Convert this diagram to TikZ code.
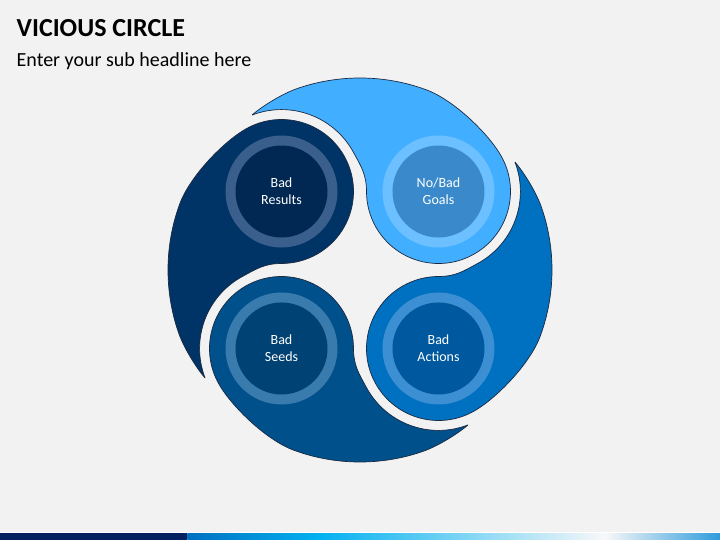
\documentclass[tikz,border=0pt]{standalone}
\usepackage{fontspec}
\setmainfont{Carlito}
\begin{document}
\begin{tikzpicture}[x=1pt,y=1pt,
  piece/.style={draw=outl,line width=0.7pt,line join=round},
  ringc/.style={circle,minimum size=112pt,inner sep=0pt,draw=none},
  corec/.style={circle,minimum size=92pt,inner sep=0pt,draw=none,text=white,align=center,
     font=\fontsize{14}{17}\selectfont},
  titletext/.style={anchor=base west,inner sep=0pt,font=\bfseries\fontsize{26}{30}\selectfont},
  subtext/.style={anchor=base west,inner sep=0pt,font=\fontsize{20}{24}\selectfont}]
\definecolor{bgc}{HTML}{F2F2F2}
\definecolor{outl}{HTML}{1B2A41}
\definecolor{pA}{HTML}{42AEFF}\definecolor{rA}{HTML}{6CC0FF}\definecolor{cA}{HTML}{3A8ACB}
\definecolor{pB}{HTML}{0070C0}\definecolor{rB}{HTML}{3C8FD2}\definecolor{cB}{HTML}{00599E}
\definecolor{pC}{HTML}{00508C}\definecolor{rC}{HTML}{3A7BAE}\definecolor{cC}{HTML}{004273}
\definecolor{pD}{HTML}{003366}\definecolor{rD}{HTML}{3A5F8C}\definecolor{cD}{HTML}{002852}
\definecolor{barD}{HTML}{002060}
\definecolor{barB}{HTML}{0070C0}
\definecolor{barC}{HTML}{00B0F0}
\definecolor{barW}{HTML}{F8F8F8}
\definecolor{barE}{HTML}{2E9BDB}
% background
\fill[bgc] (-360,-270) rectangle (360,270);
\useasboundingbox (-360,-270) rectangle (360,270);
% title
\node[titletext] (title) at (-343.5,233.3) {VICIOUS CIRCLE};
\node[subtext] (sub) at (-343.5,203.5) {Enter your sub headline here};
% pieces
\def\swirl{(-107.886,155.054) .. controls (-96.5,164.8) and (-76.7,176.65) .. (109:192)
  arc[start angle=109,end angle=70,radius=192]
  .. controls (93.9,170.2) and (128.4,136.2) .. (140.85,114.5)
  arc[start angle=30,end angle=-180,radius=72]
  .. controls (6.5,96) and (0.47,104.6) .. (-6.1,116.9)
  arc[start angle=28,end angle=111,radius=82] -- cycle}
\path[piece,fill=pA] \swirl;
\begin{scope}[rotate=-90]\path[piece,fill=pB] \swirl;\end{scope}
\begin{scope}[rotate=-180]\path[piece,fill=pC] \swirl;\end{scope}
\begin{scope}[rotate=90]\path[piece,fill=pD] \swirl;\end{scope}
% rings and labels
\node[ringc,fill=rA] (gA) at (45:111) {};
\node[corec,fill=cA] (tA) at (45:111) {No/Bad\\Goals};
\node[ringc,fill=rB] (gB) at (-45:111) {};
\node[corec,fill=cB] (tB) at (-45:111) {Bad\\Actions};
\node[ringc,fill=rC] (gC) at (-135:111) {};
\node[corec,fill=cC] (tC) at (-135:111) {Bad\\Seeds};
\node[ringc,fill=rD] (gD) at (135:111) {};
\node[corec,fill=cD] (tD) at (135:111) {Bad\\Results};
% bottom bar
\fill[white] (-360,-263.2) rectangle (360,-262.4);
\fill[barD] (-360,-270) rectangle (-172.7,-263.2);
\shade[left color=barB,right color=barC] (-172.7,-270) rectangle (-43,-263.2);
\shade[left color=barC,right color=barW] (-43.1,-270) rectangle (245,-263.2);
\shade[left color=barW,right color=barE] (244.9,-270) rectangle (360,-263.2);
\end{tikzpicture}
\end{document}
